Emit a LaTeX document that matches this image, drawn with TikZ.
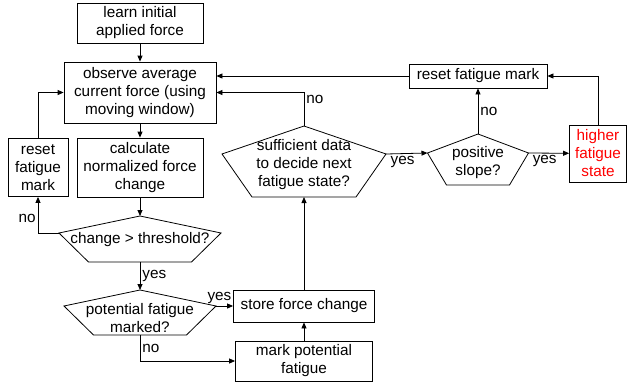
\documentclass[tikz,border=0pt]{standalone}
\usepackage{fontspec}
\setmainfont{Liberation Sans}
\usetikzlibrary{arrows.meta}
\tikzset{
  box/.style={draw, align=center, inner sep=0pt},
  lbl/.style={inner sep=2pt},
}
% name, x, y top, y corners, y bottom, half width, half bottom width, y text, text
\newcommand{\decision}[9]{%
  \coordinate (#1-t) at (#2,#3);
  \coordinate (#1-l) at ({#2-#6},#4);
  \coordinate (#1-r) at ({#2+#6},#4);
  \coordinate (#1-b) at (#2,#5);
  \draw (#1-t) -- (#1-r) -- ({#2+#7},#5) -- ({#2-#7},#5) -- (#1-l) -- cycle;
  \node[align=center] (#1) at (#2,#8) {#9};
}
\begin{document}
\begin{tikzpicture}[x=1pt, y=-1pt, line width=0.8pt, line join=miter,
    font=\fontsize{15.3}{18}\selectfont, >={Triangle[length=6pt,width=5pt]}]
  \useasboundingbox (0,0) rectangle (627,386);
  % left column
  \node[box, minimum width=126pt, minimum height=40pt] (learn) at (140,23) {learn initial\\applied force};
  \node[box, minimum width=152pt, minimum height=61pt] (obs) at (140,92.5) {observe average\\current force (using\\moving window)};
  \node[box, minimum width=126pt, minimum height=59pt] (calc) at (140,167.5) {calculate\\normalized force\\change};
  \node[box, minimum width=60pt, minimum height=58pt] (rst1) at (38,167.5) {reset\\fatigue\\mark};
  \decision{thr}{140}{216}{233}{262}{81}{51.5}{240}{change > threshold?}
  \decision{pot}{140}{290}{306}{335}{76}{46.5}{318}{potential fatigue\\marked?}
  % middle
  \node[box, minimum width=141pt, minimum height=32pt] (store) at (304,306) {store force change};
  \node[box, minimum width=137pt, minimum height=40pt] (mark) at (304,361) {mark potential\\fatigue};
  \decision{suf}{304}{126}{154}{197}{82}{52}{165}{sufficient data\\to decide next\\fatigue state?}
  % right
  \decision{pos}{478}{134}{153}{185}{50.5}{31.5}{162.5}{positive\\slope?}
  \node[box, minimum width=138pt, minimum height=24pt] (rst2) at (478,76) {reset fatigue mark};
  \node[box, minimum width=57pt, minimum height=57pt, text=red] (high) at (598,153.5) {higher\\fatigue\\state};

  \draw[->] (learn) -- (obs);
  \draw[->] (obs) -- (calc);
  \draw[->] (rst1.north) |- (obs.west);
  \draw[->] (calc) -- (thr-t);
  \draw[->] (thr-l) -| (rst1.south) node[lbl, pos=0.7, left] {no};
  \draw[->] (thr-b) -- (pot-t) node[lbl, midway, right] {yes};
  \draw[->] (pot-r) -- (store.west) node[lbl, pos=0.2, above] {yes};
  \draw[->] (pot-b) |- (mark.west) node[lbl, pos=0.25, right] {no};
  \draw[->] (mark) -- (store);
  \draw[->] (store) -- (suf-b);
  \draw[->] (suf-t) |- (obs.east) node[lbl, pos=0.4, right] {no};
  \draw[->] (suf-r) -- (pos-l) node[lbl, pos=0.4, below] {yes};
  \draw[->] (pos-t) -- (rst2) node[lbl, midway, right] {no};
  \draw[->] (pos-r) -- (high) node[lbl, pos=0.4, below] {yes};
  \draw[->] (high.north) |- (rst2.east);
  \draw[->] (rst2.west) -- (rst2.west -| obs.east);
\end{tikzpicture}
\end{document}
